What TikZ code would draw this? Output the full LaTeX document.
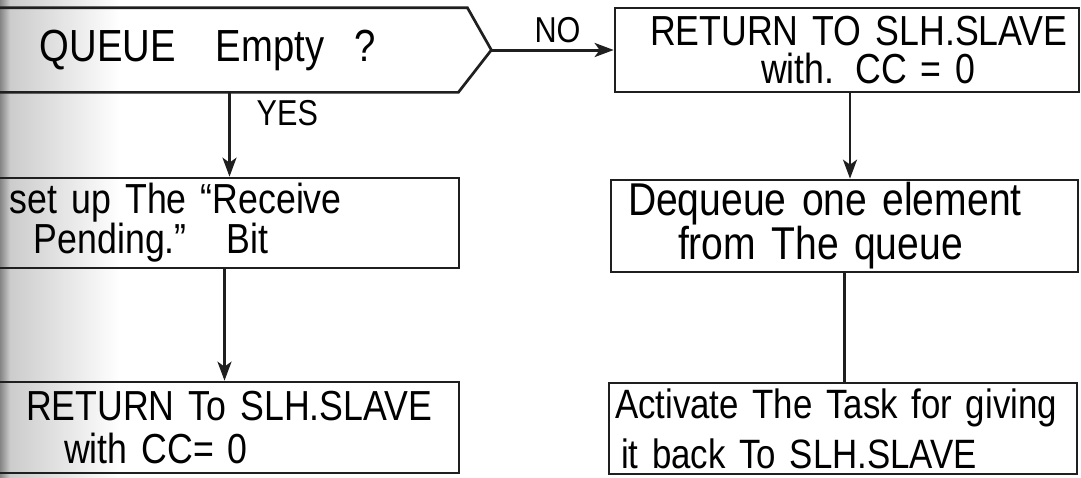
\documentclass[tikz,border=0pt]{standalone}
\usepackage{fontspec}
\newfontfamily\hand[FakeStretch=0.85]{Liberation Sans}
\usetikzlibrary{arrows.meta,calc}

\begin{document}
\begin{tikzpicture}[x=1pt,y=-1pt,
  ink/.style={draw=black!88, line width=2.7pt},
  tbox/.style 2 args={ink, rectangle, minimum width=#1, text width=#1,
    minimum height=#2, inner xsep=0pt, inner ysep=0pt, align=left},
  hw/.style n args={3}{font={\fontsize{#1}{#2}\hand\spaceskip=#3em\relax}},
  flow/.style={draw=black!88, line width=2.4pt,
    -{Stealth[length=19pt,width=14pt,inset=5pt]}},
  joint/.style={draw=black!88, line width=2.4pt},
]
\useasboundingbox (0,0) rectangle (1081,477);
\clip (0,0) rectangle (1081,477);

% paper, with the shadow of the binding on the left
\fill[white] (0,0) rectangle (1081,477);
\shade[left color=black!20, right color=white] (10,0) rectangle (120,477);
\shade[left color=black!48, right color=black!20] (0,0) rectangle (10,477);

% decision
\node[tbox={500pt}{82pt}, draw=none, hw={45pt}{50pt}{0.5}] (d) at (240,50)
  {\hspace*{50pt}QUEUE\hspace{40pt}Empty\hspace{30pt}?};
\draw[ink, line join=miter] (d.north west) -- ([xshift=-24pt]d.north east)
  -- (d.east) -- ([xshift=-33pt]d.south east) -- (d.south west);

% right column (queue not empty)
\node[tbox={464pt}{84pt}, hw={42pt}{38pt}{0.35}] (r1) at (847,50)
  {\hspace*{35pt}RETURN TO SLH.SLAVE\\\hspace*{146pt}with. CC = 0};
\node[tbox={467pt}{92pt}, hw={46pt}{40pt}{0.7}] (r2) at (844.5,226)
  {\hspace*{17pt}Dequeue one element\\\hspace*{67pt}from The queue};
\node[tbox={468pt}{91pt}, hw={41pt}{50pt}{0.4}] (r3) at (843,428.5)
  {\hspace*{6pt}Activate The Task for giving\\\hspace*{12pt}it back To SLH.SLAVE};

% left column (queue empty)
\node[tbox={469pt}{90pt}, hw={42pt}{40pt}{0.8}] (l2) at (224.5,223)
  {\hspace*{20pt}set up The “Receive\\\hspace*{44pt}Pending.”\hspace{40pt}Bit};
\node[tbox={469pt}{91pt}, hw={42pt}{43pt}{0.45}] (l3) at (224.5,427.5)
  {\hspace*{36pt}RETURN To SLH.SLAVE\\\hspace*{74pt}with CC= 0};

% connectors
\draw[flow, line width=3pt] (d.east) -- node[hw={36pt}{36pt}{0.3}, anchor=base,
  inner sep=0pt, yshift=8pt, xshift=5pt] (no) {NO} (r1.west);
\coordinate (yt) at ([xshift=5pt]l2.north);
\draw[flow] (yt |- d.south) -- node[pos=0.39, anchor=base west, inner sep=0pt,
  xshift=26pt, hw={36pt}{36pt}{0.3}] (yes) {YES} (yt);
\draw[flow] (l2.south) -- (l3.north);
\coordinate (rt) at ([xshift=3pt]r1.south);
\draw[flow] (rt) -- (rt |- r2.north);
\draw[joint] (r2.south) -- (r2.south |- r3.north);
\end{tikzpicture}
\end{document}
